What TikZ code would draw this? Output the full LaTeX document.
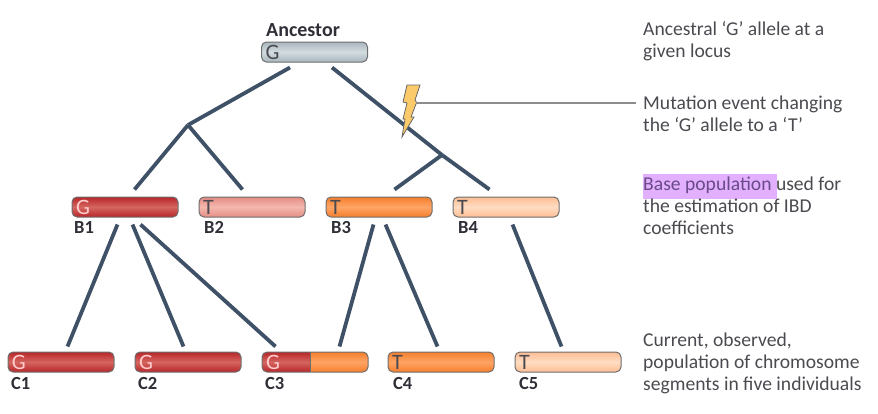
\documentclass[tikz,border=0pt]{standalone}
\usepackage{fontspec}
\setmainfont{Carlito}
\usetikzlibrary{calc}
\definecolor{inkgrey}{HTML}{4A4A50}
\definecolor{labelink}{HTML}{2F2F38}
\definecolor{branch}{HTML}{3F5166}
\definecolor{barline}{HTML}{6E6E6E}
\tikzset{
  x=1pt,y=-1pt,
  segment/.style={draw=barline,line width=1pt,rounded corners=5pt,minimum width=106pt,minimum height=20pt,
    inner sep=0pt,font=\fontsize{22}{22}\selectfont,text width=98pt,align=left},
  ancbar/.style={segment,top color=ancA,bottom color=ancA,middle color=ancB,text=inkgrey},
  redbar/.style={segment,top color=redA,bottom color=redA,middle color=redB,text=white!80!red},
  pinkbar/.style={segment,top color=pinkA,bottom color=pinkA,middle color=pinkB,text=inkgrey},
  orangebar/.style={segment,top color=orA,bottom color=orA,middle color=orB,text=inkgrey},
  peachbar/.style={segment,top color=peA,bottom color=peA,middle color=peB,text=inkgrey},
  tag/.style={font=\bfseries\fontsize{18.5}{18.5}\selectfont,text=labelink,anchor=base west,inner sep=0pt},
  note/.style={font=\fontsize{19.6}{22}\selectfont,text=inkgrey,anchor=north west,inner sep=0pt,align=left},
  link/.style={draw=branch,line width=3.8pt},
  leader/.style={draw=gray!90,line width=1.1pt},
}
\definecolor{ancA}{HTML}{A9B6BE}\definecolor{ancB}{HTML}{D3DCDF}
\definecolor{redA}{HTML}{B8262A}\definecolor{redB}{HTML}{D4665F}
\definecolor{pinkA}{HTML}{E58C84}\definecolor{pinkB}{HTML}{F3B8AE}
\definecolor{orA}{HTML}{F57F2C}\definecolor{orB}{HTML}{FFA566}
\definecolor{peA}{HTML}{FDBE94}\definecolor{peB}{HTML}{FFDCC2}
\definecolor{hilite}{HTML}{E2B0FF}
\definecolor{hiliteink}{HTML}{6A4A88}
\definecolor{boltfill}{HTML}{FBCB6B}
\begin{document}
\begin{tikzpicture}
\useasboundingbox (0,0) rectangle (878,413);

% chromosome segments
\node[ancbar] (anc) at (314.5,52) {G};
\node[redbar] (b1) at (125,207) {G};
\node[pinkbar] (b2) at (252,207) {T};
\node[orangebar] (b3) at (379,207) {T};
\node[peachbar] (b4) at (506,207) {T};
\node[redbar] (c1) at (61,362) {G};
\node[redbar] (c2) at (188,362) {G};
\begin{scope}
  \clip[rounded corners=5pt] (262,352) rectangle (368,372);
  \shade[top color=orA,bottom color=orA,middle color=orB] (310,352) rectangle (369,372);
  \shade[top color=redA,bottom color=redA,middle color=redB] (261,352) rectangle (310,372);
\end{scope}
\node[segment,text=white!80!red] (c3) at (315,362) {G};
\draw[barline,line width=1pt] (310,352) -- (310,372);
\node[orangebar] (c4) at (441,362) {T};
\node[peachbar] (c5) at (568,362) {T};

% segment names
\node[tag,font=\bfseries\fontsize{20}{20}\selectfont] (lanc) at (266,36) {Ancestor};
\node[tag] (lb1) at (74,233) {B1};
\node[tag] (lb2) at (204,233) {B2};
\node[tag] (lb3) at (331,233) {B3};
\node[tag] (lb4) at (458,233) {B4};
\node[tag] (lc1) at (11,389) {C1};
\node[tag] (lc2) at (138,389) {C2};
\node[tag] (lc3) at (265,389) {C3};
\node[tag] (lc4) at (393,389) {C4};
\node[tag] (lc5) at (519,389) {C5};

% branch points of the tree
\coordinate (forkL) at (188,125);
\coordinate (forkR) at (442,155);

% lines of descent
\draw[link] ([shift={(29,5)}]anc.south west) -- (forkL);
\draw[link] ([shift={(-36,5)}]anc.south east) -- (forkR);
\draw[link] (forkL) -- ([shift={(63,-7)}]b1.north west);
\draw[link] (forkL) -- ([shift={(44,-7)}]b2.north west);
\draw[link] (forkR) -- ([shift={(69,-7)}]b3.north west);
\draw[link] (forkR) -- ([shift={(37,-7)}]b4.north west);
\draw[link] ([shift={(46,7)}]b1.south west) -- ([shift={(60,-5)}]c1.north west);
\draw[link] ([shift={(61,7)}]b1.south west) -- ([shift={(49,-5)}]c2.north west);
\draw[link] ([shift={(69,7)}]b1.south west) -- ([shift={(14,-5)}]c3.north west);
\draw[link] ([shift={(48,7)}]b3.south west) -- ([shift={(78,-5)}]c3.north west);
\draw[link] ([shift={(60,7)}]b3.south west) -- ([shift={(50,-5)}]c4.north west);
\draw[link] ([shift={(60,7)}]b4.south west) -- ([shift={(47,-5)}]c5.north west);

% mutation bolt
\filldraw[fill=boltfill,draw=gray!80!black,line width=0.8pt,line join=miter]
  (407,85) -- (420,85) -- (415,100) -- (417,103) -- (416,104) -- (411,117) -- (414,117) -- (402,137)
  -- (405,119) -- (403,119) -- (407,103) -- (403,102) -- cycle;
\coordinate (bolt) at (416,103);

% explanatory notes
\fill[hilite] (643,174) rectangle (777,199);
\node[note] (n1) at (643,21.5) {Ancestral ‘G’ allele at a\\given locus};
\node[note] (n2) at (643,95.5) {Mutation event changing\\the ‘G’ allele to a ‘T’};
\node[note] (n3) at (643,176.5) {\textcolor{hiliteink}{Base population} used for\\the estimation of IBD\\coefficients};
\node[note] (n4) at (643,332.5) {Current, observed,\\population of chromosome\\segments in five individuals};
\draw[leader] (bolt) -- ($(n2.north west)+(-7,7.5)$);
\end{tikzpicture}
\end{document}
